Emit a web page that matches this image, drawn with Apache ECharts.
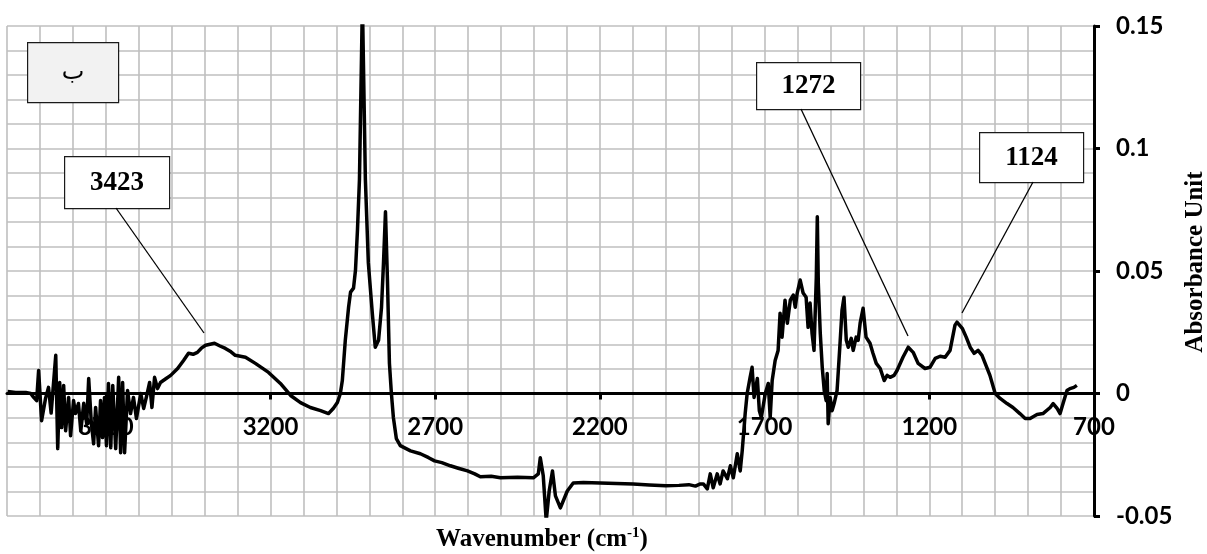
<!DOCTYPE html>
<html>
<head>
<meta charset="utf-8">
<script src="https://cdn.jsdelivr.net/npm/echarts@6/dist/echarts.min.js"></script>
<style>
html,body{margin:0;padding:0;background:#fff;}
#chart{width:1207px;height:554px;}
</style>
</head>
<body>
<div id="chart"></div>
<script>
// Wavenumber (cm-1) and absorbance values
const wavenumber = [
3998,3974,3943,3928,3919,3910,3904,3895,3883,3874,3866,3852,3846,3840,3834,3828,3822,3813,3807,3798,
3792,3783,3776,3767,3758,3752,3744,3737,3731,3722,3716,3710,3704,3698,3692,3685,3679,3670,3661,3655,
3649,3643,3634,3625,3616,3607,3594,3585,3576,3567,3560,3552,3543,3534,3518,3503,3482,3464,3449,3435,
3422,3410,3397,3370,3355,3337,3320,3307,3276,3246,3206,3170,3139,3109,3079,3048,3024,3009,2997,2988,
2982,2973,2963,2957,2948,2942,2936,2930,2921,2912,2903,2891,2882,2872,2863,2857,2851,2845,2839,2833,
2827,2818,2806,2775,2745,2720,2702,2680,2654,2630,2602,2580,2563,2530,2502,2450,2402,2387,2381,2372,
2363,2354,2344,2335,2320,2299,2281,2250,2199,2150,2099,2050,2000,1960,1930,1910,1895,1886,1874,1865,
1856,1844,1835,1826,1813,1804,1795,1783,1774,1768,1759,1753,1744,1738,1732,1722,1716,1710,1698,1689,
1683,1677,1668,1659,1653,1647,1638,1631,1622,1613,1607,1601,1592,1583,1574,1568,1562,1556,1550,1543,
1540,1537,1531,1525,1519,1513,1510,1507,1501,1495,1489,1480,1471,1465,1459,1452,1446,1437,1431,1422,
1416,1410,1401,1392,1380,1371,1361,1349,1337,1328,1319,1307,1298,1280,1264,1249,1234,1213,1198,1182,
1167,1152,1137,1122,1116,1100,1088,1076,1064,1052,1040,1028,1016,1000,985,964,946,925,909,894,
873,855,833,824,812,803,794,782,773,761,752
];
const absorbance = [
0.0008,0.0004,0.0004,0.0,-0.0016,-0.0029,0.0094,-0.0111,-0.002,0.0025,-0.008,0.0156,-0.0225,0.0045,-0.0139,0.0033,-0.0152,-0.0016,-0.0172,-0.0029,
-0.0082,-0.0041,-0.0152,-0.004,-0.0123,0.0061,-0.012,-0.0205,-0.0057,-0.0213,-0.0029,-0.018,-0.0016,-0.0213,0.0041,-0.0221,0.0033,-0.0225,0.0066,-0.0242,
0.0045,-0.0242,0.0012,-0.0082,-0.0016,-0.0102,0.0,-0.0061,-0.001,0.0045,-0.0057,0.0066,0.002,0.0045,0.006,0.0074,0.0102,0.0135,0.0164,0.016,
0.0168,0.0185,0.0197,0.0205,0.0195,0.0184,0.017,0.0156,0.0148,0.0123,0.0086,0.0041,-0.0008,-0.0037,-0.0057,-0.007,-0.0082,-0.006,-0.0037,0.0,
0.0053,0.0217,0.0352,0.0414,0.043,0.0504,0.0668,0.0873,0.16,0.0873,0.0533,0.0328,0.0189,0.0217,0.0352,0.0533,0.0742,0.0463,0.0123,0.0,
-0.0098,-0.0184,-0.0213,-0.0234,-0.0246,-0.0262,-0.0275,-0.0282,-0.0295,-0.0305,-0.0316,-0.0328,-0.034,-0.0338,-0.0344,-0.0342,-0.0344,-0.0328,-0.0262,-0.0336,
-0.052,-0.0398,-0.0316,-0.0418,-0.0467,-0.0398,-0.0365,-0.0363,-0.0365,-0.0367,-0.0369,-0.0373,-0.0377,-0.0375,-0.0372,-0.0378,-0.0369,-0.0369,-0.0389,-0.0328,
-0.0385,-0.0328,-0.0369,-0.0316,-0.0348,-0.0295,-0.0344,-0.0246,-0.0316,-0.0234,-0.0082,0.0,0.0066,0.0107,-0.0016,0.0061,-0.007,-0.0098,0.0,0.0041,
-0.0098,0.0053,0.0135,0.0176,0.0328,0.023,0.0381,0.0287,0.0381,0.0402,0.0352,0.041,0.0463,0.041,0.0393,0.027,0.0369,0.0246,0.0176,0.0475,
0.0721,0.0451,0.0246,0.0107,0.0012,-0.0029,0.0082,-0.0123,-0.0016,-0.007,-0.0041,0.0012,0.0205,0.034,0.0393,0.0217,0.0189,0.0225,0.0176,0.023,
0.0217,0.0287,0.0348,0.023,0.0205,0.0164,0.0123,0.0102,0.0053,0.0074,0.0066,0.0074,0.0094,0.0148,0.0189,0.0168,0.0123,0.0102,0.0107,0.0143,
0.0152,0.0148,0.0176,0.0279,0.0291,0.0266,0.023,0.0189,0.0164,0.0176,0.0156,0.0115,0.0074,0.0,-0.002,-0.0041,-0.0057,-0.0082,-0.0102,-0.0102,
-0.0086,-0.0082,-0.0057,-0.0041,-0.0061,-0.0082,-0.0041,0.0012,0.002,0.0025,0.0033
];
const xTickLabels = [700, 1200, 1700, 2200, 2700, 3200, 3700];
const yTickLabels = [-0.05, 0, 0.05, 0.1, 0.15];
const peakLabels = ['3423', '1272', '1124'];
const panelLabel = 'ب';
const xTitle = 'Wavenumber (cm';
const xTitleSup = '-1';
const yTitle = 'Absorbance Unit';

const X_MIN = 700, X_MAX = 4000, Y_MIN = -0.05, Y_MAX = 0.15;
const seriesData = wavenumber.map((w, i) => [w, absorbance[i]]);
const chart = echarts.init(document.getElementById('chart'));

const GRID = { left: 7, top: 26, right: 113, bottom: 38 };
const gridH = 554 - GRID.top - GRID.bottom;
const zeroOffset = -gridH * (0 - Y_MIN) / (Y_MAX - Y_MIN);

const labelFont = { fontFamily: 'Lato', fontWeight: 'bold', fontSize: 24, color: '#000' };
const serif = 'Liberation Serif';

function box(x, y, w, h, text, fill, fontSize, bold, font) {
  return {
    type: 'group', left: x, top: y, z: 50,
    children: [
      { type: 'rect', z: 50, shape: { x: 0, y: 0, width: w, height: h },
        style: { fill: fill, stroke: '#1a1a1a', lineWidth: 1.2 } },
      { type: 'text', z: 51, x: w / 2, y: h / 2,
        style: { text: text, fontFamily: font || serif, fontSize: fontSize, fontWeight: bold ? 'bold' : 'normal',
                 fill: '#000', align: 'center', verticalAlign: 'middle' } }
    ]
  };
}
function leader(x1, y1, x2, y2) {
  return { type: 'line', z: 50, shape: { x1, y1, x2, y2 }, style: { stroke: '#000', lineWidth: 1.3 } };
}
const gridLine = { show: true, lineStyle: { color: '#bfbfbf', width: 1.6 } };

chart.setOption({
  animation: false,
  backgroundColor: '#fff',
  grid: Object.assign({ containLabel: false }, GRID),
  xAxis: [
    { type: 'value', inverse: true, min: X_MIN, max: X_MAX, interval: 100, z: 0,
      axisLine: { show: false }, axisTick: { show: false }, axisLabel: { show: false },
      splitLine: gridLine },
    { type: 'value', inverse: true, min: X_MIN, max: X_MAX, interval: 100, position: 'bottom', z: 1,
      offset: zeroOffset,
      axisLine: { show: true, onZero: false, lineStyle: { color: '#000', width: 3 } },
      axisTick: { show: true, customValues: xTickLabels, length: 6, inside: false, lineStyle: { color: '#000', width: 3 } },
      axisLabel: Object.assign({ customValues: xTickLabels, margin: 22, formatter: v => String(v) }, labelFont),
      splitLine: { show: false } }
  ],
  yAxis: [
    { type: 'value', position: 'right', min: Y_MIN, max: Y_MAX, interval: 0.01, z: 0,
      axisLine: { show: false }, axisTick: { show: false }, axisLabel: { show: false },
      splitLine: gridLine },
    { type: 'value', position: 'right', min: Y_MIN, max: Y_MAX, interval: 0.01, z: 1,
      axisLine: { show: true, onZero: false, lineStyle: { color: '#000', width: 3 } },
      axisTick: { show: true, customValues: yTickLabels, length: 6, inside: false, lineStyle: { color: '#000', width: 3 } },
      axisLabel: Object.assign({ customValues: yTickLabels, margin: 22, formatter: v => String(v) }, labelFont),
      splitLine: { show: false } }
  ],
  series: [{
    type: 'line', data: seriesData, showSymbol: false, clip: true, xAxisIndex: 0, yAxisIndex: 0, z: 10,
    lineStyle: { color: '#000', width: 3.5, join: 'round' }
  }],
  graphic: [
    box(27, 42, 91, 60, panelLabel, '#f2f2f2', 24, false, 'DejaVu Sans'),
    box(64, 156, 105, 52, peakLabels[0], '#fff', 27, true),
    box(756, 62, 104, 47, peakLabels[1], '#fff', 27, true),
    box(979, 132, 104, 50, peakLabels[2], '#fff', 27, true),
    leader(116, 208, 204, 333),
    leader(801, 109, 908, 336),
    leader(1033, 182, 962, 313),
    { type: 'text', x: 542, y: 540, z: 50,
      style: { text: '{a|' + xTitle + '}{s|' + xTitleSup + '}{a|)}', align: 'center', verticalAlign: 'middle',
               rich: { a: { fontFamily: serif, fontWeight: 'bold', fontSize: 25, fill: '#000', lineHeight: 28 },
                       s: { fontFamily: serif, fontWeight: 'bold', fontSize: 15, fill: '#000', verticalAlign: 'top', lineHeight: 28 } } } },
    { type: 'text', x: 1196, y: 262, rotation: Math.PI / 2, z: 50,
      style: { text: yTitle, fontFamily: serif, fontWeight: 'bold', fontSize: 25, fill: '#000', align: 'center', verticalAlign: 'middle' } }
  ]
});
</script>
</body>
</html>
